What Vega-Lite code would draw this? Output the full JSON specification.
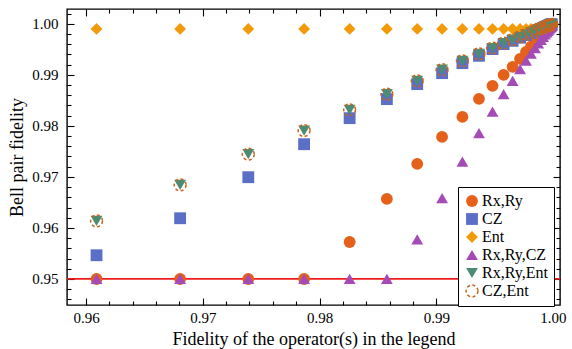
{
  "$schema": "https://vega.github.io/schema/vega-lite/v6.json",
  "width": 493,
  "height": 296,
  "autosize": {"type": "none"},
  "padding": {"left": 67, "top": 9, "right": 12, "bottom": 44},
  "background": "white",
  "config": {
    "font": "Liberation Serif",
    "view": {"stroke": "black", "strokeWidth": 1.4},
    "axis": {
      "grid": false,
      "domain": false,
      "tickColor": "black",
      "tickWidth": 1.1,
      "labelColor": "black",
      "labelFontSize": 15,
      "labelFont": "Liberation Serif",
      "titleFont": "Liberation Serif",
      "titleFontSize": 18,
      "titleFontWeight": "normal",
      "titleColor": "black",
      "labelOverlap": false,
      "labelFlush": false
    }
  },
  "datasets": {
    "thr": [{"level": 0.95}],
    "pts": [
      {"op": "Rx,Ry", "x": 0.9609, "y": 0.95},
      {"op": "Rx,Ry", "x": 0.96806, "y": 0.95},
      {"op": "Rx,Ry", "x": 0.9739, "y": 0.95},
      {"op": "Rx,Ry", "x": 0.97868, "y": 0.95},
      {"op": "Rx,Ry", "x": 0.98258, "y": 0.95725},
      {"op": "Rx,Ry", "x": 0.98577, "y": 0.96569},
      {"op": "Rx,Ry", "x": 0.98837, "y": 0.97255},
      {"op": "Rx,Ry", "x": 0.9905, "y": 0.97784},
      {"op": "Rx,Ry", "x": 0.99224, "y": 0.98176},
      {"op": "Rx,Ry", "x": 0.99366, "y": 0.98529},
      {"op": "Rx,Ry", "x": 0.99482, "y": 0.98784},
      {"op": "Rx,Ry", "x": 0.99577, "y": 0.99},
      {"op": "Rx,Ry", "x": 0.99654, "y": 0.99157},
      {"op": "Rx,Ry", "x": 0.99718, "y": 0.99314},
      {"op": "Rx,Ry", "x": 0.99769, "y": 0.99451},
      {"op": "Rx,Ry", "x": 0.99811, "y": 0.99551},
      {"op": "Rx,Ry", "x": 0.99846, "y": 0.99633},
      {"op": "Rx,Ry", "x": 0.99874, "y": 0.997},
      {"op": "Rx,Ry", "x": 0.99897, "y": 0.99755},
      {"op": "Rx,Ry", "x": 0.99916, "y": 0.998},
      {"op": "Rx,Ry", "x": 0.99931, "y": 0.99837},
      {"op": "Rx,Ry", "x": 0.99944, "y": 0.99866},
      {"op": "Rx,Ry", "x": 0.99954, "y": 0.99891},
      {"op": "Rx,Ry", "x": 0.99963, "y": 0.99911},
      {"op": "Rx,Ry", "x": 0.99969, "y": 0.99927},
      {"op": "Rx,Ry", "x": 0.99975, "y": 0.9994},
      {"op": "Rx,Ry", "x": 0.9998, "y": 0.99951},
      {"op": "Rx,Ry", "x": 0.99983, "y": 0.9996},
      {"op": "Rx,Ry", "x": 0.99986, "y": 0.99968},
      {"op": "Rx,Ry", "x": 0.99989, "y": 0.99974},

      {"op": "CZ", "x": 0.9609, "y": 0.95465},
      {"op": "CZ", "x": 0.96806, "y": 0.9619},
      {"op": "CZ", "x": 0.9739, "y": 0.96994},
      {"op": "CZ", "x": 0.97868, "y": 0.97641},
      {"op": "CZ", "x": 0.98258, "y": 0.98151},
      {"op": "CZ", "x": 0.98577, "y": 0.98524},
      {"op": "CZ", "x": 0.98837, "y": 0.98818},
      {"op": "CZ", "x": 0.9905, "y": 0.99033},
      {"op": "CZ", "x": 0.99224, "y": 0.99229},
      {"op": "CZ", "x": 0.99366, "y": 0.99373},
      {"op": "CZ", "x": 0.99482, "y": 0.99504},
      {"op": "CZ", "x": 0.99577, "y": 0.99602},
      {"op": "CZ", "x": 0.99654, "y": 0.99666},
      {"op": "CZ", "x": 0.99718, "y": 0.99728},
      {"op": "CZ", "x": 0.99769, "y": 0.99778},
      {"op": "CZ", "x": 0.99811, "y": 0.99819},
      {"op": "CZ", "x": 0.99846, "y": 0.99852},
      {"op": "CZ", "x": 0.99874, "y": 0.9988},
      {"op": "CZ", "x": 0.99897, "y": 0.99902},
      {"op": "CZ", "x": 0.99916, "y": 0.9992},
      {"op": "CZ", "x": 0.99931, "y": 0.99935},
      {"op": "CZ", "x": 0.99944, "y": 0.99947},
      {"op": "CZ", "x": 0.99954, "y": 0.99956},
      {"op": "CZ", "x": 0.99963, "y": 0.99964},
      {"op": "CZ", "x": 0.99969, "y": 0.99971},
      {"op": "CZ", "x": 0.99975, "y": 0.99976},
      {"op": "CZ", "x": 0.9998, "y": 0.99981},
      {"op": "CZ", "x": 0.99983, "y": 0.99984},
      {"op": "CZ", "x": 0.99986, "y": 0.99987},
      {"op": "CZ", "x": 0.99989, "y": 0.99989},

      {"op": "Ent", "x": 0.9609, "y": 0.999},
      {"op": "Ent", "x": 0.96806, "y": 0.999},
      {"op": "Ent", "x": 0.9739, "y": 0.999},
      {"op": "Ent", "x": 0.97868, "y": 0.999},
      {"op": "Ent", "x": 0.98258, "y": 0.999},
      {"op": "Ent", "x": 0.98577, "y": 0.999},
      {"op": "Ent", "x": 0.98837, "y": 0.999},
      {"op": "Ent", "x": 0.9905, "y": 0.999},
      {"op": "Ent", "x": 0.99224, "y": 0.999},
      {"op": "Ent", "x": 0.99366, "y": 0.999},
      {"op": "Ent", "x": 0.99482, "y": 0.999},
      {"op": "Ent", "x": 0.99577, "y": 0.999},
      {"op": "Ent", "x": 0.99654, "y": 0.999},
      {"op": "Ent", "x": 0.99718, "y": 0.999},
      {"op": "Ent", "x": 0.99769, "y": 0.999},
      {"op": "Ent", "x": 0.99811, "y": 0.999},
      {"op": "Ent", "x": 0.99846, "y": 0.999},
      {"op": "Ent", "x": 0.99874, "y": 0.999},
      {"op": "Ent", "x": 0.99897, "y": 0.9991},
      {"op": "Ent", "x": 0.99916, "y": 0.9992},
      {"op": "Ent", "x": 0.99931, "y": 0.9993},
      {"op": "Ent", "x": 0.99944, "y": 0.9994},
      {"op": "Ent", "x": 0.99954, "y": 0.9995},
      {"op": "Ent", "x": 0.99963, "y": 0.9996},
      {"op": "Ent", "x": 0.99969, "y": 0.9997},
      {"op": "Ent", "x": 0.99975, "y": 0.9997},
      {"op": "Ent", "x": 0.9998, "y": 0.9998},
      {"op": "Ent", "x": 0.99983, "y": 0.9998},
      {"op": "Ent", "x": 0.99986, "y": 0.9999},
      {"op": "Ent", "x": 0.99989, "y": 0.9999},

      {"op": "Rx,Ry,CZ", "x": 0.9609, "y": 0.95},
      {"op": "Rx,Ry,CZ", "x": 0.96806, "y": 0.95},
      {"op": "Rx,Ry,CZ", "x": 0.9739, "y": 0.95},
      {"op": "Rx,Ry,CZ", "x": 0.97868, "y": 0.95},
      {"op": "Rx,Ry,CZ", "x": 0.98258, "y": 0.95},
      {"op": "Rx,Ry,CZ", "x": 0.98577, "y": 0.95},
      {"op": "Rx,Ry,CZ", "x": 0.98837, "y": 0.95778},
      {"op": "Rx,Ry,CZ", "x": 0.9905, "y": 0.96582},
      {"op": "Rx,Ry,CZ", "x": 0.99224, "y": 0.973},
      {"op": "Rx,Ry,CZ", "x": 0.99366, "y": 0.97857},
      {"op": "Rx,Ry,CZ", "x": 0.99482, "y": 0.9828},
      {"op": "Rx,Ry,CZ", "x": 0.99577, "y": 0.98622},
      {"op": "Rx,Ry,CZ", "x": 0.99654, "y": 0.98882},
      {"op": "Rx,Ry,CZ", "x": 0.99718, "y": 0.99111},
      {"op": "Rx,Ry,CZ", "x": 0.99769, "y": 0.99279},
      {"op": "Rx,Ry,CZ", "x": 0.99811, "y": 0.99415},
      {"op": "Rx,Ry,CZ", "x": 0.99846, "y": 0.99525},
      {"op": "Rx,Ry,CZ", "x": 0.99874, "y": 0.99614},
      {"op": "Rx,Ry,CZ", "x": 0.99897, "y": 0.99686},
      {"op": "Rx,Ry,CZ", "x": 0.99916, "y": 0.99744},
      {"op": "Rx,Ry,CZ", "x": 0.99931, "y": 0.99792},
      {"op": "Rx,Ry,CZ", "x": 0.99944, "y": 0.9983},
      {"op": "Rx,Ry,CZ", "x": 0.99954, "y": 0.99861},
      {"op": "Rx,Ry,CZ", "x": 0.99963, "y": 0.99887},
      {"op": "Rx,Ry,CZ", "x": 0.99969, "y": 0.99908},
      {"op": "Rx,Ry,CZ", "x": 0.99975, "y": 0.99925},
      {"op": "Rx,Ry,CZ", "x": 0.9998, "y": 0.99939},
      {"op": "Rx,Ry,CZ", "x": 0.99983, "y": 0.9995},
      {"op": "Rx,Ry,CZ", "x": 0.99986, "y": 0.99959},
      {"op": "Rx,Ry,CZ", "x": 0.99989, "y": 0.99967},

      {"op": "Rx,Ry,Ent", "x": 0.9609, "y": 0.96137},
      {"op": "Rx,Ry,Ent", "x": 0.96806, "y": 0.96843},
      {"op": "Rx,Ry,Ent", "x": 0.9739, "y": 0.97445},
      {"op": "Rx,Ry,Ent", "x": 0.97868, "y": 0.97908},
      {"op": "Rx,Ry,Ent", "x": 0.98258, "y": 0.98314},
      {"op": "Rx,Ry,Ent", "x": 0.98577, "y": 0.98622},
      {"op": "Rx,Ry,Ent", "x": 0.98837, "y": 0.98882},
      {"op": "Rx,Ry,Ent", "x": 0.9905, "y": 0.991},
      {"op": "Rx,Ry,Ent", "x": 0.99224, "y": 0.99275},
      {"op": "Rx,Ry,Ent", "x": 0.99366, "y": 0.99412},
      {"op": "Rx,Ry,Ent", "x": 0.99482, "y": 0.99524},
      {"op": "Rx,Ry,Ent", "x": 0.99577, "y": 0.99622},
      {"op": "Rx,Ry,Ent", "x": 0.99654, "y": 0.99689},
      {"op": "Rx,Ry,Ent", "x": 0.99718, "y": 0.99746},
      {"op": "Rx,Ry,Ent", "x": 0.99769, "y": 0.99792},
      {"op": "Rx,Ry,Ent", "x": 0.99811, "y": 0.9983},
      {"op": "Rx,Ry,Ent", "x": 0.99846, "y": 0.99861},
      {"op": "Rx,Ry,Ent", "x": 0.99874, "y": 0.99887},
      {"op": "Rx,Ry,Ent", "x": 0.99897, "y": 0.99907},
      {"op": "Rx,Ry,Ent", "x": 0.99916, "y": 0.99924},
      {"op": "Rx,Ry,Ent", "x": 0.99931, "y": 0.99938},
      {"op": "Rx,Ry,Ent", "x": 0.99944, "y": 0.9995},
      {"op": "Rx,Ry,Ent", "x": 0.99954, "y": 0.99959},
      {"op": "Rx,Ry,Ent", "x": 0.99963, "y": 0.99966},
      {"op": "Rx,Ry,Ent", "x": 0.99969, "y": 0.99972},
      {"op": "Rx,Ry,Ent", "x": 0.99975, "y": 0.99977},
      {"op": "Rx,Ry,Ent", "x": 0.9998, "y": 0.99982},
      {"op": "Rx,Ry,Ent", "x": 0.99983, "y": 0.99985},
      {"op": "Rx,Ry,Ent", "x": 0.99986, "y": 0.99988},
      {"op": "Rx,Ry,Ent", "x": 0.99989, "y": 0.9999},

      {"op": "CZ,Ent", "x": 0.9609, "y": 0.96137},
      {"op": "CZ,Ent", "x": 0.96806, "y": 0.96843},
      {"op": "CZ,Ent", "x": 0.9739, "y": 0.97445},
      {"op": "CZ,Ent", "x": 0.97868, "y": 0.97908},
      {"op": "CZ,Ent", "x": 0.98258, "y": 0.98314},
      {"op": "CZ,Ent", "x": 0.98577, "y": 0.98622},
      {"op": "CZ,Ent", "x": 0.98837, "y": 0.98882},
      {"op": "CZ,Ent", "x": 0.9905, "y": 0.991},
      {"op": "CZ,Ent", "x": 0.99224, "y": 0.99275},
      {"op": "CZ,Ent", "x": 0.99366, "y": 0.99412},
      {"op": "CZ,Ent", "x": 0.99482, "y": 0.99524},
      {"op": "CZ,Ent", "x": 0.99577, "y": 0.99622},
      {"op": "CZ,Ent", "x": 0.99654, "y": 0.99689},
      {"op": "CZ,Ent", "x": 0.99718, "y": 0.99746},
      {"op": "CZ,Ent", "x": 0.99769, "y": 0.99792},
      {"op": "CZ,Ent", "x": 0.99811, "y": 0.9983},
      {"op": "CZ,Ent", "x": 0.99846, "y": 0.99861},
      {"op": "CZ,Ent", "x": 0.99874, "y": 0.99887},
      {"op": "CZ,Ent", "x": 0.99897, "y": 0.99907},
      {"op": "CZ,Ent", "x": 0.99916, "y": 0.99924},
      {"op": "CZ,Ent", "x": 0.99931, "y": 0.99938},
      {"op": "CZ,Ent", "x": 0.99944, "y": 0.9995},
      {"op": "CZ,Ent", "x": 0.99954, "y": 0.99959},
      {"op": "CZ,Ent", "x": 0.99963, "y": 0.99966},
      {"op": "CZ,Ent", "x": 0.99969, "y": 0.99972},
      {"op": "CZ,Ent", "x": 0.99975, "y": 0.99977},
      {"op": "CZ,Ent", "x": 0.9998, "y": 0.99982},
      {"op": "CZ,Ent", "x": 0.99983, "y": 0.99985},
      {"op": "CZ,Ent", "x": 0.99986, "y": 0.99988},
      {"op": "CZ,Ent", "x": 0.99989, "y": 0.9999}
    ]
  },
  "layer": [
    {
      "data": {"name": "thr"},
      "mark": {"type": "rule", "color": "#F01C1C", "strokeWidth": 1.8},
      "encoding": {
        "y": {"field": "level", "type": "quantitative", "scale": {"domain": [0.9449, 1.0029], "nice": false, "zero": false}, "axis": null}
      }
    },
    {
      "data": {"name": "pts"},
      "mark": {"type": "point", "filled": true, "size": 140, "strokeWidth": 1.5, "opacity": 1},
      "encoding": {
        "x": {
          "field": "x", "type": "quantitative",
          "scale": {"domain": [0.95837, 1.0006], "nice": false, "zero": false},
          "axis": {
            "orient": "bottom",
            "title": "Fidelity of the operator(s) in the legend",
            "values": [0.96, 0.962, 0.964, 0.966, 0.968, 0.97, 0.972, 0.974, 0.976, 0.978, 0.98, 0.982, 0.984, 0.986, 0.988, 0.99, 0.992, 0.994, 0.996, 0.998, 1.0],
            "labelExpr": "abs(datum.value*100 - round(datum.value*100)) < 0.001 ? format(datum.value, '.2f') : ''",
            "tickSize": {"condition": {"test": "abs(datum.value*100 - round(datum.value*100)) < 0.001", "value": -7}, "value": -4},
            "labelPadding": 12,
            "titlePadding": 2
          }
        },
        "y": {
          "field": "y", "type": "quantitative",
          "scale": {"domain": [0.9449, 1.0029], "nice": false, "zero": false},
          "axis": {
            "orient": "left",
            "title": "Bell pair fidelity",
            "values": [0.946, 0.948, 0.95, 0.952, 0.954, 0.956, 0.958, 0.96, 0.962, 0.964, 0.966, 0.968, 0.97, 0.972, 0.974, 0.976, 0.978, 0.98, 0.982, 0.984, 0.986, 0.988, 0.99, 0.992, 0.994, 0.996, 0.998, 1.0, 1.002],
            "labelExpr": "abs(datum.value*100 - round(datum.value*100)) < 0.001 ? format(datum.value, '.2f') : ''",
            "tickSize": {"condition": {"test": "abs(datum.value*100 - round(datum.value*100)) < 0.001", "value": -7}, "value": -4},
            "labelPadding": 16,
            "titlePadding": 5
          }
        },
        "fill": {
          "field": "op", "type": "nominal",
          "scale": {"domain": ["Rx,Ry", "CZ", "Ent", "Rx,Ry,CZ", "Rx,Ry,Ent", "CZ,Ent"], "range": ["#E5601A", "#5C6FC7", "#F39A0B", "#A54BB5", "#4D8C74", "transparent"]},
          "legend": {
            "orient": "none", "legendX": 391, "legendY": 178,
            "title": null,
            "fillColor": "white", "strokeColor": "black",
            "padding": 6,
            "labelFontSize": 16, "labelFont": "Liberation Serif", "labelColor": "black",
            "labelOffset": 2, "rowPadding": 0,
            "symbolSize": 140, "symbolStrokeWidth": 1.5, "labelLimit": 0
          }
        },
        "stroke": {
          "field": "op", "type": "nominal",
          "scale": {"domain": ["Rx,Ry", "CZ", "Ent", "Rx,Ry,CZ", "Rx,Ry,Ent", "CZ,Ent"], "range": ["transparent", "transparent", "transparent", "transparent", "transparent", "#C8641E"]}
        },
        "shape": {
          "field": "op", "type": "nominal",
          "scale": {"domain": ["Rx,Ry", "CZ", "Ent", "Rx,Ry,CZ", "Rx,Ry,Ent", "CZ,Ent"], "range": ["circle", "square", "diamond", "triangle-up", "triangle-down", "circle"]}
        },
        "strokeDash": {
          "field": "op", "type": "nominal",
          "scale": {"domain": ["Rx,Ry", "CZ", "Ent", "Rx,Ry,CZ", "Rx,Ry,Ent", "CZ,Ent"], "range": [[1, 0], [1, 0], [1, 0], [1, 0], [1, 0], [3, 2.5]]}
        }
      }
    },
    {
      "data": {"name": "pts"},
      "mark": {"type": "point", "opacity": 0},
      "encoding": {
        "x": {
          "field": "x", "type": "quantitative",
          "scale": {"domain": [0.95837, 1.0006], "nice": false, "zero": false},
          "axis": {
            "orient": "top", "title": null, "labels": false,
            "values": [0.96, 0.962, 0.964, 0.966, 0.968, 0.97, 0.972, 0.974, 0.976, 0.978, 0.98, 0.982, 0.984, 0.986, 0.988, 0.99, 0.992, 0.994, 0.996, 0.998, 1.0],
            "tickSize": {"condition": {"test": "abs(datum.value*100 - round(datum.value*100)) < 0.001", "value": -7}, "value": -4}
          }
        },
        "y": {
          "field": "y", "type": "quantitative",
          "scale": {"domain": [0.9449, 1.0029], "nice": false, "zero": false},
          "axis": {
            "orient": "right", "title": null, "labels": false,
            "values": [0.946, 0.948, 0.95, 0.952, 0.954, 0.956, 0.958, 0.96, 0.962, 0.964, 0.966, 0.968, 0.97, 0.972, 0.974, 0.976, 0.978, 0.98, 0.982, 0.984, 0.986, 0.988, 0.99, 0.992, 0.994, 0.996, 0.998, 1.0, 1.002],
            "tickSize": {"condition": {"test": "abs(datum.value*100 - round(datum.value*100)) < 0.001", "value": -7}, "value": -4}
          }
        }
      }
    }
  ],
  "resolve": {"axis": {"x": "independent", "y": "independent"}}
}
